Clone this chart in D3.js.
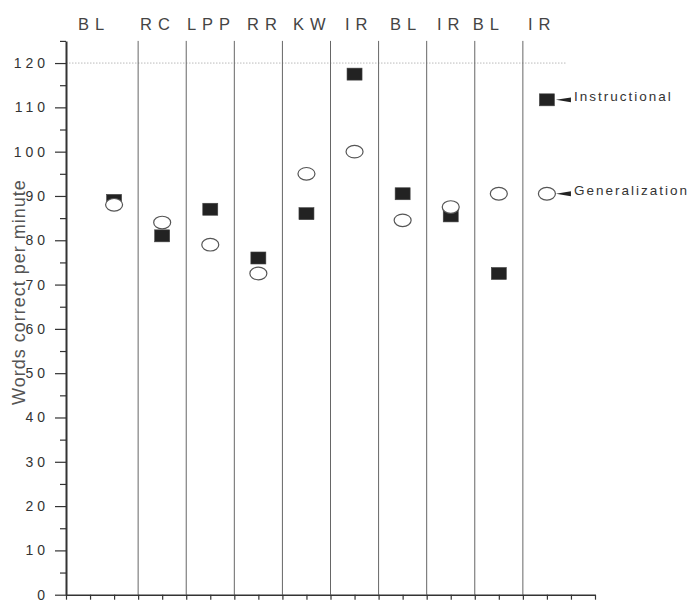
<!DOCTYPE html>
<html>
<head>
<meta charset="utf-8">
<script src="https://cdn.jsdelivr.net/npm/d3@7"></script>
<style>
  html, body { margin: 0; padding: 0; background: #ffffff; }
  svg { display: block; }
  text { font-family: "Liberation Sans", Arial, sans-serif; }
</style>
</head>
<body>
<svg id="chart" width="693" height="601"></svg>
<script>
// Session positions (x) and words-correct-per-minute readings
const sessions       = [2, 4, 6, 8, 10, 12, 14, 16, 18];
const instructional  = [89, 81, 87, 76, 86, 117.5, 90.5, 85.5, 72.5];
const generalization = [88, 84, 79, 72.5, 95, 100, 84.5, 87.5, 90.5];

// Phase change lines and phase names
const phaseLines  = [3, 5, 7, 9, 11, 13, 15, 17, 19];
const phaseNames  = ["BL", "RC", "LPP", "RR", "KW", "IR", "BL", "IR", "BL", "IR"];
const phaseLabelX = [0.5, 3.08, 5.03, 7.53, 9.44, 11.6, 13.47, 15.43, 16.92, 19.21];

// Criterion line
const criterion = 120;
const criterionEnd = 20.8;

// Y axis ticks
const majorTicks = d3.range(0, 121, 10);
const minorTicks = d3.range(5, 126, 10);

// Legend entries
const legendX = 20;
const legendItems = [
  { name: "Instructional",  value: 111.7, kind: "square" },
  { name: "Generalization", value: 90.5,  kind: "circle" }
];

const svg = d3.select("#chart");

const x = d3.scaleLinear().domain([0, 22]).range([66, 595]);
const y = d3.scaleLinear().domain([0, 125]).range([594.7, 40.9]);

// Criterion dotted line
svg.append("line")
  .attr("x1", x(0)).attr("x2", x(criterionEnd))
  .attr("y1", y(criterion)).attr("y2", y(criterion))
  .attr("stroke", "#bbb").attr("stroke-width", 1)
  .attr("stroke-dasharray", "1.5,1.5");

// Phase change lines
svg.append("g").selectAll("line").data(phaseLines).join("line")
  .attr("x1", d => x(d)).attr("x2", d => x(d))
  .attr("y1", y(125)).attr("y2", y(0))
  .attr("stroke", "#666").attr("stroke-width", 1);

// Minor y ticks
svg.append("g")
  .attr("transform", `translate(${x(0)},0)`)
  .call(d3.axisLeft(y).tickValues(minorTicks).tickSize(6).tickSizeOuter(0).tickFormat(""))
  .call(g => g.select(".domain").remove())
  .call(g => g.selectAll("line").attr("stroke", "#333").attr("stroke-width", 1.2));

// Major y ticks with labels
svg.append("g")
  .attr("transform", `translate(${x(0)},0)`)
  .call(d3.axisLeft(y).tickValues(majorTicks).tickSize(11).tickSizeOuter(0).tickPadding(6))
  .call(g => g.select(".domain").attr("stroke", "#333").attr("stroke-width", 2))
  .call(g => g.selectAll("line").attr("stroke", "#333").attr("stroke-width", 1.2))
  .call(g => g.selectAll("text")
    .style("font-family", "'Liberation Sans', Arial, sans-serif")
    .style("font-size", "14px")
    .style("letter-spacing", "4px")
    .attr("fill", "#333"));

// X axis
svg.append("g")
  .attr("transform", `translate(0,${y(0)})`)
  .call(d3.axisBottom(x).tickValues(d3.range(0, 23)).tickSize(5).tickSizeOuter(0).tickFormat(""))
  .call(g => g.select(".domain").attr("stroke", "#333").attr("stroke-width", 1.5))
  .call(g => g.selectAll("line").attr("stroke", "#333").attr("stroke-width", 1.2));

// Phase names
svg.append("g").selectAll("text").data(phaseNames).join("text")
  .attr("x", (d, i) => x(phaseLabelX[i]))
  .attr("y", 30)
  .style("font-size", "16.5px")
  .style("letter-spacing", "6px")
  .attr("fill", "#444")
  .text(d => d);

// Y axis title
svg.append("text")
  .attr("transform", "translate(25,292) rotate(-90)")
  .attr("text-anchor", "middle")
  .style("font-size", "18px")
  .style("letter-spacing", "1px")
  .attr("fill", "#555")
  .text("Words correct per minute");

const sqW = 15, sqH = 12, rx = 8.5, ry = 6.3;

function drawSquare(g, cx, cy) {
  g.append("rect")
    .attr("x", cx - sqW / 2).attr("y", cy - sqH / 2)
    .attr("width", sqW).attr("height", sqH)
    .attr("fill", "#222").attr("stroke", "#444").attr("stroke-width", 0.6);
}
function drawCircle(g, cx, cy) {
  g.append("ellipse")
    .attr("cx", cx).attr("cy", cy).attr("rx", rx).attr("ry", ry)
    .attr("fill", "#fff").attr("stroke", "#555").attr("stroke-width", 1.2);
}

// Instructional squares
const marks = svg.append("g");
sessions.forEach((s, i) => drawSquare(marks, x(s), y(instructional[i])));
// Generalization circles drawn on top
sessions.forEach((s, i) => drawCircle(marks, x(s), y(generalization[i])));

// Legend with arrows
const legend = svg.append("g");
legendItems.forEach(item => {
  const cx = x(legendX), cy = y(item.value);
  if (item.kind === "square") drawSquare(legend, cx, cy); else drawCircle(legend, cx, cy);
  const ax = cx + 9;
  legend.append("path")
    .attr("d", `M${ax},${cy} L${ax + 15},${cy - 2.4} L${ax + 15},${cy + 2.4} Z`)
    .attr("fill", "#222");
  legend.append("text")
    .attr("x", ax + 18).attr("y", cy + 1)
    .style("font-size", "13.5px")
    .style("letter-spacing", "2px")
    .attr("fill", "#333")
    .text(item.name);
});
</script>
</body>
</html>
